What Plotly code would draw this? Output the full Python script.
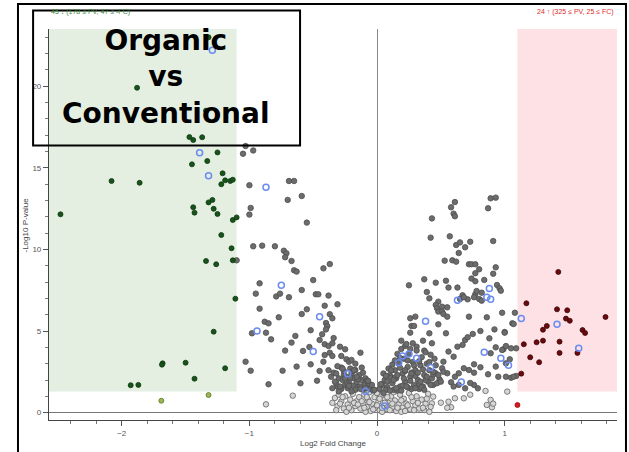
import plotly.graph_objects as go

# thresholds
fc_cut = 1.1
pv_cut = 1.3

# significant down (green)
green_x = [-2.48, -2.08, -1.86, -1.88, -1.32, -1.34, -1.47, -1.44, -1.37, -1.25, -1.45, -1.33, -1.21,
           -1.22, -1.19, -1.15, -1.13, -1.44, -1.43, -1.32, -1.29, -1.28, -1.25, -1.13, -1.10, -1.22,
           -1.14, -1.34, -1.26, -1.13, -1.11, -1.28, -1.68, -1.685, -1.50, -1.43, -1.19, -1.93, -1.87]
green_y = [12.15, 14.19, 14.08, 19.9, 22.99, 18.5, 16.88, 16.7, 16.87, 15.94, 15.21, 15.41, 14.66,
           13.99, 14.23, 14.19, 14.27, 12.58, 12.25, 12.88, 13.03, 12.49, 12.17, 11.8, 11.96, 10.88,
           10.07, 9.29, 9.09, 9.33, 6.98, 4.96, 3.02, 2.94, 3.06, 2.08, 2.72, 1.68, 1.70]

# fold change down, p not significant
olive_x = [-1.69, -1.32]
olive_y = [0.73, 1.08]

# significant up (dark red)
red_x = [1.42, 1.17, 1.41, 1.49, 1.48, 1.51, 1.79, 1.33, 1.30, 1.61, 1.63, 1.30, 1.25, 1.43, 1.15,
         1.43, 1.57, 1.20, 1.27, 1.13]
red_y = [8.62, 6.70, 6.33, 6.27, 5.76, 5.63, 5.86, 5.31, 5.08, 5.06, 4.88, 4.41, 4.31, 4.35, 4.19,
         3.66, 3.66, 3.39, 3.09, 2.39]

# fold change up, p not significant
lred_x = [1.10]
lred_y = [0.47]

# p significant, small fold change (dark gray)
gray_x = [-1.03, -1.05, -0.97, -1.00, -0.69, -0.65, -0.70, -0.59, -0.99, -1.00, -0.55, -0.97, -0.90,
          -0.80, -0.73, -0.71, -0.72, -0.67, -0.65, -0.63, -0.42, -0.37, -1.10, -0.50, -0.92, -0.95,
          -0.79, -0.76, -0.69, -0.59, -0.48, -0.46, -0.38, -0.31, -0.41, -0.92, -0.55, -0.77, -0.88,
          -0.85, -0.59, -0.98, -0.87, -0.83, -0.64, -0.67, -0.72, -0.52, -0.58, -0.53, -1.03, -0.99,
          -0.74, -0.63, -0.52, -0.45, -0.85, -0.60, -0.47, -0.37, -0.35, -0.40, -0.39, -0.40, -0.45,
          -0.41, -0.38, -0.35, -0.34, -0.43, -0.37, -0.41, -0.35, -0.42, -0.29, -0.25, -0.28, -0.24,
          -0.22, -0.20, -0.17, -0.13, -0.12, -0.28, -0.26, -0.31, -0.32,
          -0.30, -0.27, -0.24, -0.22, -0.20, -0.18, -0.16, -0.14, -0.12, -0.10, -0.09, -0.07, -0.05,
          -0.15, -0.19, -0.25, -0.28, -0.33, -0.36, -0.21, -0.17, -0.11, -0.03, -0.23,
          -0.29, -0.26, -0.23, -0.19, -0.15, -0.13, -0.08, -0.06, -0.34, -0.31, -0.21, -0.17,
          -0.35, -0.32, -0.30, -0.27, -0.25, -0.22, -0.20, -0.18, -0.16, -0.13, -0.11, -0.09,
          -0.07, -0.04, -0.02, -0.38,
          0.89, 0.93, 0.87, 0.61, 0.58, 0.60, 0.61, 0.43, 0.42, 0.57, 0.62, 0.65, 0.69, 0.73, 0.64,
          0.91, 0.53, 0.59, 0.62, 0.72, 0.74, 0.77, 0.80, 0.77, 0.93, 0.91, 0.74, 0.77, 0.84, 0.37,
          0.46, 0.54, 0.25, 0.56, 0.63, 0.39, 0.41, 0.67, 0.71, 0.77, 0.78, 0.82, 0.76, 0.80, 0.82,
          0.94, 0.96, 0.97, 0.65, 0.68, 0.48, 0.46, 0.47, 0.51, 0.55, 0.48, 0.51, 0.52, 0.55, 0.30,
          0.26, 0.72, 0.86, 0.98, 1.08, 1.06, 0.92, 0.99, 1.05, 1.00, 1.01, 0.98, 1.04, 1.01, 1.01,
          1.05, 1.09, 0.27, 0.29, 0.26, 0.19, 0.22, 0.28, 0.31, 0.36, 0.41, 0.43, 0.37, 0.48, 0.54,
          0.56, 0.60, 0.63, 0.67, 0.69, 0.71, 0.75, 0.81, 0.88, 0.93, 0.89, 1.00, 1.07, 1.09, 1.07,
          0.95, 0.87, 0.93, 0.81, 0.76, 0.76, 0.72, 0.68, 0.64, 0.61, 0.58, 0.55, 0.51, 0.52, 0.49,
          0.46, 0.44, 0.76, 0.79, 0.73, 0.69, 0.64, 0.60,
          0.02, 0.04, 0.06, 0.08, 0.10, 0.12, 0.14, 0.15, 0.17, 0.18, 0.20, 0.21, 0.22, 0.24, 0.25,
          0.26, 0.28, 0.29, 0.30, 0.31, 0.32, 0.34, 0.35, 0.36, 0.37, 0.39, 0.40, 0.41, 0.43, 0.45,
          0.47, 0.12, 0.16, 0.19, 0.23, 0.09, 0.05, 0.13, 0.27, 0.33, 0.38, 0.42,
          0.03, 0.07, 0.11, 0.16, 0.20, 0.24, 0.27, 0.33, 0.38, 0.44, 0.14, 0.22, 0.30, 0.35,
          0.05, 0.08, 0.10, 0.11, 0.13, 0.15, 0.16, 0.18, 0.19, 0.21, 0.22, 0.23, 0.24, 0.26,
          0.27, 0.29, 0.30, 0.32, 0.33, 0.34, 0.36, 0.37, 0.39, 0.41, 0.42, 0.44, 0.46, 0.48,
          0.50, 0.52, 0.18, 0.26, 0.14, 0.07]
gray_y = [16.33, 15.86, 16.06, 13.93, 14.19, 14.19, 13.03, 13.27, 12.54, 12.13, 11.64, 10.19, 10.23,
          10.19, 9.92, 9.76, 9.52, 9.29, 8.72, 8.64, 8.84, 9.10, 9.33, 8.12, 7.92, 7.29,
          7.12, 7.29, 7.07, 7.51, 7.25, 7.25, 7.17, 6.64, 6.55, 6.37, 6.33, 5.84, 5.57,
          5.47, 6.04, 4.86, 4.90, 4.49, 4.70, 4.29, 3.80, 5.05, 3.78, 4.02, 3.12, 2.57,
          2.57, 2.82, 2.96, 2.55, 1.74, 1.80, 1.96, 6.03, 5.78, 5.49, 5.30, 5.10, 4.45,
          4.19, 4.08, 4.25, 4.57, 4.80, 3.67, 3.53, 3.47, 3.12, 4.04, 3.88, 3.47, 3.27,
          3.12, 3.23, 2.61, 3.67, 2.76, 2.76, 2.31, 1.59, 1.80,
          2.10, 2.00, 2.20, 1.90, 2.40, 2.10, 1.85, 2.30, 2.00, 1.70, 2.10, 1.60, 1.45,
          1.55, 1.65, 1.70, 1.45, 1.90, 2.20, 2.70, 3.00, 1.40, 1.35, 1.50,
          1.60, 2.55, 1.75, 2.55, 2.05, 1.60, 1.95, 1.75, 2.45, 2.85, 2.15, 1.40,
          1.50, 2.40, 1.30, 2.70, 2.10, 1.65, 1.30, 2.60, 2.20, 1.45, 2.45, 1.50,
          1.95, 1.70, 1.40, 2.60,
          13.13, 13.17, 12.52, 12.90, 12.58, 12.19, 12.03, 11.90, 10.72, 10.80, 10.27, 10.43, 10.13, 10.47, 9.78,
          10.51, 9.31, 9.33, 9.25, 9.09, 9.09, 9.09, 8.78, 8.54, 8.90, 8.51, 8.21, 8.05, 8.13, 8.17,
          7.96, 8.08, 7.80, 7.66, 7.66, 7.39, 7.00, 7.19, 6.94, 7.25, 7.45, 7.35, 7.07, 6.96, 6.86,
          7.82, 7.62, 7.47, 6.96, 7.07, 6.80, 6.60, 6.39, 6.49, 6.45, 6.19, 6.19, 6.04, 5.88, 5.88,
          5.78, 5.88, 5.84, 6.12, 6.12, 5.47, 5.10, 3.88, 3.94, 4.94, 4.08, 3.84, 3.27, 3.02, 2.20,
          2.14, 2.25, 5.31, 5.31, 4.90, 4.41, 4.08, 4.25, 4.04, 4.41, 4.86, 4.25, 3.80, 5.41, 4.86,
          3.74, 3.43, 4.04, 4.15, 4.45, 4.62, 4.82, 5.00, 4.55, 4.00, 3.64, 4.90, 5.43, 3.94, 2.20,
          2.20, 2.35, 2.82, 2.78, 2.45, 2.96, 2.61, 2.72, 2.41, 2.20, 1.86, 2.41, 2.72, 3.12, 2.04,
          2.41, 1.70, 1.70, 1.49, 1.82, 1.49, 1.70, 1.60,
          1.45, 1.70, 2.00, 1.55, 2.30, 1.80, 2.60, 2.10, 3.00, 1.60, 2.40, 3.30, 1.90, 2.80, 3.60,
          2.20, 3.10, 1.70, 2.60, 3.80, 2.00, 2.90, 3.40, 1.60, 2.30, 3.00, 1.90, 2.60, 2.10, 3.30,
          1.80, 2.95, 3.60, 3.90, 4.20, 2.70, 2.40, 1.40, 1.45, 1.45, 3.70, 3.55,
          1.75, 1.40, 2.15, 1.35, 1.65, 1.55, 2.45, 1.75, 2.00, 2.35, 2.15, 2.55, 2.25, 1.55,
          1.20, 1.90, 1.35, 2.60, 2.00, 1.50, 2.30, 2.75, 1.35, 2.10, 2.60, 1.60, 3.20, 1.95,
          2.40, 2.90, 1.50, 2.45, 3.15, 1.90, 2.65, 1.40, 2.20, 3.10, 1.70, 2.50, 2.90, 2.30,
          1.90, 2.50, 3.35, 3.90, 3.20, 2.25]

# not significant (light gray)
light_x = [-0.87, -0.66, 0.85, 1.02, 0.89, 0.86, 0.90, 0.91, 0.56, 0.58, 0.55, 0.61, 0.68, 0.73,
           0.50, 0.44, 0.43, 0.37,
           -0.35, -0.33, -0.31, -0.30, -0.28, -0.26, -0.25, -0.23, -0.21, -0.20, -0.19, -0.17, -0.16,
           -0.14, -0.13, -0.11, -0.10, -0.08, -0.07, -0.05, -0.04, -0.02, -0.01, 0.01, 0.02, 0.03,
           0.05, 0.06, 0.08, 0.09, 0.11, 0.12, 0.14, 0.15, 0.17, 0.18, 0.20, 0.21, 0.23, 0.25, 0.26,
           0.28, 0.30, 0.31, 0.33, 0.35, 0.38, 0.40, 0.42, -0.24, -0.09, 0.04, 0.19, -0.18, 0.00,
           -0.06, 0.13, 0.07, -0.12,
           -0.03, 0.00, 0.02, 0.04, 0.06, 0.08, 0.10, 0.12, -0.06, -0.08, -0.10, -0.15, -0.22,
           -0.27, 0.16, 0.19, 0.22, 0.24, 0.27, 0.29, 0.32, 0.36, 0.39, 0.41, -0.32, -0.29]
light_y = [0.51, 1.04, 1.33, 1.29, 0.78, 0.47, 0.33, 0.55, 0.67, 0.33, 0.30, 0.88, 0.88, 1.10,
           0.61, 0.98, 0.57, 0.16,
           0.60, 0.90, 0.40, 1.10, 0.70, 0.25, 1.00, 0.50, 0.80, 0.15, 1.15, 0.40, 0.70,
           0.95, 0.25, 0.55, 1.10, 0.35, 0.80, 0.10, 0.55, 0.95, 0.30, 0.65, 0.15, 1.05,
           0.40, 0.80, 0.20, 0.60, 1.00, 0.35, 0.75, 0.10, 0.50, 1.10, 0.30, 0.85, 0.55, 1.20, 0.20,
           0.70, 0.45, 1.00, 0.25, 0.80, 0.55, 1.15, 0.35, 0.05, 0.05, 0.05, 0.05, 0.60, 1.20,
           1.25, 1.25, 0.50, 0.70,
           0.20, 0.45, 0.85, 0.30, 0.60, 0.95, 0.15, 0.55, 0.65, 0.95, 0.30, 0.50, 0.30,
           0.95, 0.30, 0.75, 0.10, 0.45, 0.95, 0.15, 0.60, 0.30, 0.85, 0.05, 0.15, 0.55]

# highlighted (blue open circles)
blue_x = [-1.29, -1.39, -1.32, -0.87, -0.75, -0.94, -0.45, -0.50, -0.23, -0.09, 0.38, 1.13, 1.41,
          1.58, 0.84, 0.97, 1.03, 0.20, 0.25, 0.17, 0.31, 0.42, 0.66, 0.06, 0.88, 0.86, 0.89, 0.63]
blue_y = [22.2, 15.92, 14.51, 13.80, 7.80, 5.00, 5.88, 3.74, 2.39, 1.31, 5.60, 5.76, 5.41,
          3.94, 3.70, 3.33, 2.90, 3.47, 3.59, 3.06, 3.33, 2.76, 1.88, 0.41, 7.60, 7.07, 6.94, 6.88]

x_range = [-2.57, 1.88]
y_range = [-0.45, 23.5]

fig = go.Figure()


def dots(x, y, fill, line, size=6, width=0.8):
    fig.add_trace(go.Scatter(x=x, y=y, mode='markers', hoverinfo='x+y',
                             marker=dict(size=size, color=fill, line=dict(color=line, width=width))))


dots(light_x, light_y, '#d6d6d6', '#6e6e6e', 5.5, 0.9)
dots(gray_x, gray_y, '#6c6c6c', '#4e4e4e', 5.5)
dots(green_x, green_y, '#17531a', '#0e3a10', 5)
dots(olive_x, olive_y, '#9bb456', '#5c7a26', 5)
dots(red_x, red_y, '#6a0a0e', '#3e0508', 5)
dots(lred_x, lred_y, '#d8191c', '#a01010', 5)
dots(blue_x, blue_y, 'rgba(255,255,255,0)', '#6a8cf0', 6, 1.5)

# shaded significance zones
fig.add_shape(type='rect', xref='x', yref='y', x0=x_range[0], x1=-fc_cut, y0=pv_cut, y1=y_range[1],
              fillcolor='#e4efe1', line_width=0, layer='below')
fig.add_shape(type='rect', xref='x', yref='y', x0=fc_cut, x1=x_range[1], y0=pv_cut, y1=y_range[1],
              fillcolor='#fde1e4', line_width=0, layer='below')

# outer frame and title box
fig.add_shape(type='rect', xref='paper', yref='paper', x0=-0.0546, x1=1.0158, y0=-0.12, y1=1.064,
              line=dict(color='black', width=2), fillcolor='rgba(0,0,0,0)')
fig.add_shape(type='rect', xref='paper', yref='paper', x0=-0.028, x1=0.442, y0=0.702, y1=1.047,
              line=dict(color='black', width=2), fillcolor='rgba(0,0,0,0)')

fig.add_annotation(text='<b>Organic<br>vs<br>Conventional</b>', xref='paper', yref='paper',
                   x=0.206, y=0.878, xanchor='center', yanchor='middle', showarrow=False,
                   font=dict(family='DejaVu Sans', size=28, color='black'))
fig.add_annotation(text='45 ↓ (178 ≤ PV, 47 ≤ -FC)', xref='paper', yref='paper', x=0.0, y=1.043,
                   xanchor='left', yanchor='middle', showarrow=False,
                   font=dict(family='Liberation Sans', size=7, color='#3d8b3d'))
fig.add_annotation(text='24 ↑ (325 ≤ PV, 25 ≤ FC)', xref='paper', yref='paper', x=0.998, y=1.043,
                   xanchor='right', yanchor='middle', showarrow=False,
                   font=dict(family='Liberation Sans', size=7, color='#e02a2a'))

# axis titles
fig.add_annotation(text='Log2 Fold Change', xref='paper', yref='paper', x=0.5, y=-0.061,
                   xanchor='center', yanchor='middle', showarrow=False,
                   font=dict(family='Liberation Sans', size=8, color='#444'))
fig.add_annotation(text='-Log10 P-value', xref='paper', yref='paper', x=-0.0405, y=0.5,
                   xanchor='center', yanchor='middle', showarrow=False, textangle=-90,
                   font=dict(family='Liberation Sans', size=8, color='#444'))

fig.update_xaxes(range=x_range, tickvals=[-2, -1, 0, 1], ticks='outside', ticklen=5, tickcolor='#555',
                 showgrid=False, showline=True, linecolor='#444', linewidth=1.2, automargin=False,
                 zeroline=True, zerolinecolor='#888', zerolinewidth=1,
                 minor=dict(ticks='outside', dtick=0.2, ticklen=3, tickcolor='#777'),
                 tickfont=dict(family='Liberation Sans', size=8, color='#555'))
fig.update_yaxes(range=y_range, tickvals=[0, 5, 10, 15, 20], ticks='outside', ticklen=5, tickcolor='#555',
                 showgrid=False, showline=True, linecolor='#444', linewidth=1.2, automargin=False,
                 zeroline=True, zerolinecolor='#777', zerolinewidth=1,
                 minor=dict(ticks='outside', dtick=1, ticklen=3, tickcolor='#777'),
                 tickfont=dict(family='Liberation Sans', size=8, color='#555'))

fig.update_layout(width=629, height=452, showlegend=False, plot_bgcolor='white', paper_bgcolor='white',
                  margin=dict(l=49, r=12, t=29, b=32))

# drop the default 8px page margin so the figure fills the window
fig.write_html('out.html', config={'displayModeBar': False},
               post_script="document.body.style.margin='0';")
